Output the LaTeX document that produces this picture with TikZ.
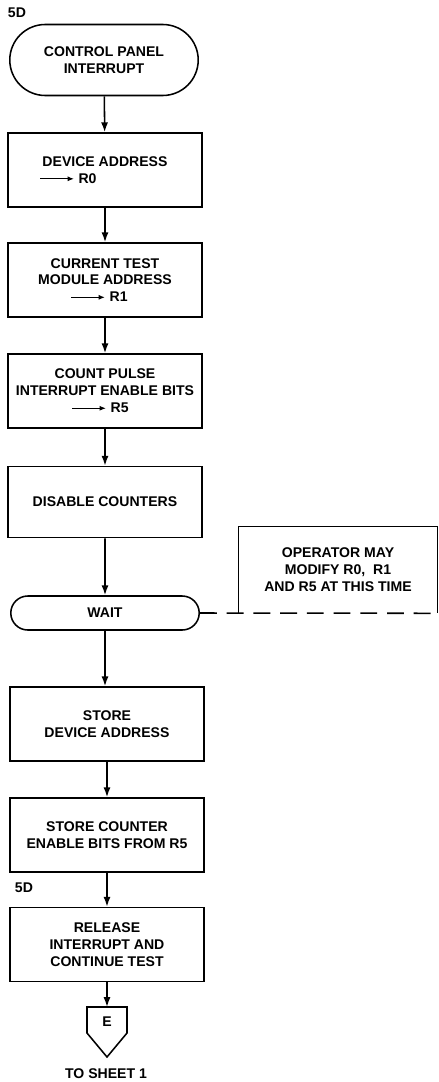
\documentclass[tikz,border=0pt]{standalone}
\usepackage{fontspec}
\setmainfont{Liberation Sans}
\usetikzlibrary{shapes.misc,arrows.meta}

\newcommand{\pxu}{0.025}
\newcommand{\regarrow}{\tikz[baseline=-0.6ex]\draw[line width=0.9pt,-{Latex[length=4.5pt,width=3.5pt]}] (0,0) -- (0.85cm,0);}

\tikzset{
	flowbox/.style={draw,line width=1.1pt,minimum width=4.85cm,minimum height=1.85cm,align=center,inner sep=2pt},
	terminal/.style={draw,line width=1.1pt,rounded rectangle,minimum width=4.85cm,align=center,inner sep=2pt},
	flow/.style={line width=1.1pt,-{Latex[length=7pt,width=5pt]}},
	every node/.style={font=\bfseries\fontsize{10}{12}\selectfont}
}

\begin{document}
\begin{tikzpicture}[x=\pxu cm,y=-\pxu cm]
	\useasboundingbox (0,0) rectangle (439,1082);

	%main column
	\node[anchor=west] (pagetop) at (3,13) {5D};
	\node[terminal,minimum height=1.775cm] (start) at (104,60) {CONTROL PANEL\\INTERRUPT};
	\node[flowbox] (devaddr) at (105,170) {DEVICE ADDRESS\\\regarrow\ R0\hspace*{1.85cm}};
	\node[flowbox] (modaddr) at (105,280) {CURRENT TEST\\MODULE ADDRESS\\\regarrow\ R1\hspace*{0.3cm}};
	\node[flowbox] (enbits) at (105,391) {COUNT PULSE\\INTERRUPT ENABLE BITS\\\regarrow\ R5\hspace*{0.25cm}};
	\node[flowbox,minimum height=1.775cm] (disable) at (105,502) {DISABLE COUNTERS};
	\node[terminal,minimum height=0.85cm] (wait) at (105,613) {WAIT};
	\node[flowbox] (storeaddr) at (107,724) {STORE\\DEVICE ADDRESS};
	\node[flowbox] (storebits) at (107,835) {STORE COUNTER\\ENABLE BITS FROM R5};
	\node[anchor=west] (pagemid) at (10,888) {5D};
	\node[flowbox] (release) at (107,944.5) {RELEASE\\INTERRUPT AND\\CONTINUE TEST};

	%off page connector
	\coordinate (etop) at (107,1007);
	\draw[line width=1.1pt] (87,1007) -- (127,1007) -- (127,1033) -- (107,1057) -- (87,1033) -- cycle;
	\node (econn) at (107,1022) {E};
	\node (sheet) at (106,1074) {TO SHEET 1};

	%annotation
	\node[minimum width=4.95cm,minimum height=2.15cm,align=center] (note) at (338,570) {OPERATOR MAY\\MODIFY R0,\ \ R1\\AND R5 AT THIS TIME};
	\draw[line width=1.1pt] (note.south west) -- (note.north west) -- (note.north east) -- (note.south east);
	\draw[line width=1.1pt,dash pattern=on 12pt off 7pt] (wait.east) -- (note.south east);

	%flow lines
	\draw[flow] (start) -- (devaddr);
	\draw[flow] (devaddr) -- (modaddr);
	\draw[flow] (modaddr) -- (enbits);
	\draw[flow] (enbits) -- (disable);
	\draw[flow] (disable) -- (wait);
	\draw[flow] (wait.south) -- (wait.south |- storeaddr.north);
	\draw[flow] (storeaddr) -- (storebits);
	\draw[flow] (storebits) -- (release);
	\draw[flow] (release.south) -- (etop);
\end{tikzpicture}
\end{document}
